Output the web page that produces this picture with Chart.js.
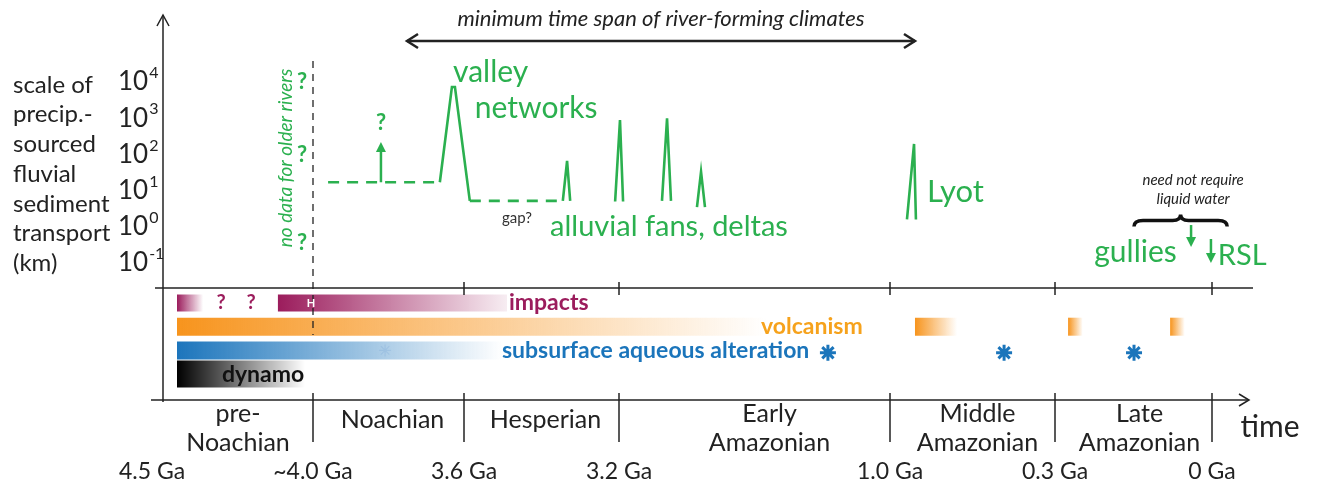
<!DOCTYPE html>
<html lang="en">
<head>
<meta charset="UTF-8">
<title>Mars river-forming climates through time</title>
<script src="https://cdn.jsdelivr.net/npm/chart.js"></script>
<style>
  body { margin: 0; background: #fff; }
</style>
</head>
<body>
<canvas id="chart" width="1320" height="486"></canvas>
<script>
// ---- data ----
// time axis: era boundaries (Ga) and labels
const eraBoundsGa = [4.5, 4.0, 3.6, 3.2, 1.0, 0.3, 0];
const eraBoundLabels = ['4.5 Ga', '~4.0 Ga', '3.6 Ga', '3.2 Ga', '1.0 Ga', '0.3 Ga', '0 Ga'];
const eraNames = [['pre-', 'Noachian'], ['Noachian'], ['Hesperian'], ['Early', 'Amazonian'], ['Middle', 'Amazonian'], ['Late', 'Amazonian']];
const decadeExps = [4, 3, 2, 1, 0, -1];
const yTitleLines = ['scale of', 'precip.-', 'sourced', 'fluvial', 'sediment', 'transport', '(km)'];

// scale of precipitation-sourced fluvial sediment transport, [Ga, km]
const noachianBase = [[3.96, 17], [3.664, 17]];
const valleyNetworks = [[3.664, 17], [3.632, 7300], [3.624, 7300], [3.585, 5.2]];
const hesperianBase = [[3.585, 5.2], [3.345, 5.2]];
const fansDeltas = [[3.345, 5.2], [3.334, 66], [3.326, 5.2], null,
  [3.21, 5], [3.192, 890], [3.167, 5], null,
  [2.851, 5.2], [2.81, 1000], [2.778, 5.2], null,
  [2.567, 3.5], [2.534, 33], [2.502, 3.5]];
const lyot = [[0.928, 1.6], [0.898, 195], [0.89, 1.6]];

// other processes, [start Ga, end Ga]
const impactSpans = [[4.5, 4.404], [4.129, 3.489]];
const volcanismSpans = [[4.5, 2.0], [0.894, 0.716], [0.275, 0.247], [0.08, 0.052]];
const alterationSpans = [[4.5, 3.5]];
const dynamoSpans = [[4.5, 4.03]];
const alterationStars = [1.504, 0.516, 0.149];

// ---- layout helpers ----
const GREEN = '#2bb04f';
const FONT = 'Lato, "Open Sans", sans-serif';
// schematic (non linear) spacing of the era boundaries along the axis
const eraAxisPos = [0, 1.36, 2.87, 4.42, 7.13, 8.78, 10.35];
// small horizontal nudges (px) of the era names from the era mid points
const eraNameShift = [-7, 4, 4, 15, 5, 6];

function pos(ga) {
  const n = eraBoundsGa.length;
  for (let i = 0; i < n - 1; i++) {
    const a = eraBoundsGa[i], b = eraBoundsGa[i + 1];
    if (ga >= b || i === n - 2) {
      return eraAxisPos[i] + (a - ga) / (a - b) * (eraAxisPos[i + 1] - eraAxisPos[i]);
    }
  }
}

function pts(list) {
  let lastX = 0;
  return list.map(p => {
    if (!p) return { x: lastX, y: null };
    lastX = pos(p[0]);
    return { x: lastX, y: p[1] };
  });
}

function fade(chart, span, rgb, endAlpha) {
  if (!chart.chartArea) return 'rgb(' + rgb + ')';
  const sx = chart.scales.x;
  const g = chart.ctx.createLinearGradient(sx.getPixelForValue(pos(span[0])), 0, sx.getPixelForValue(pos(span[1])), 0);
  g.addColorStop(0, 'rgba(' + rgb + ',1)');
  g.addColorStop(1, 'rgba(' + rgb + ',' + endAlpha + ')');
  return g;
}

function spanSets(spans, row, rgb, width, endAlpha) {
  return spans.map(s => ({
    yAxisID: 'y2',
    data: [{ x: pos(s[0]), y: row }, { x: pos(s[1]), y: row }],
    borderWidth: width,
    borderCapStyle: 'butt',
    pointRadius: 0,
    borderColor: ctx => fade(ctx.chart, s, rgb, endAlpha)
  }));
}

const lineBase = { yAxisID: 'y', borderColor: GREEN, borderWidth: 2.6, pointRadius: 0, tension: 0 };

function line(c, x0, y0, x1, y1) {
  c.beginPath(); c.moveTo(x0, y0); c.lineTo(x1, y1); c.stroke();
}
function chevron(c, x, y, dir, w, l) {
  c.beginPath();
  if (dir === 'up') { c.moveTo(x - w, y + l); c.lineTo(x, y); c.lineTo(x + w, y + l); }
  if (dir === 'right') { c.moveTo(x - l, y - w); c.lineTo(x, y); c.lineTo(x - l, y + w); }
  if (dir === 'left') { c.moveTo(x + l, y - w); c.lineTo(x, y); c.lineTo(x + l, y + w); }
  c.stroke();
}
function txt(c, s, x, y, font, color, align) {
  c.font = font; c.fillStyle = color; c.textAlign = align || 'left'; c.textBaseline = 'middle';
  c.fillText(s, x, y);
}
function greenArrow(c, x, y0, y1) {
  const d = Math.sign(y1 - y0);
  c.strokeStyle = GREEN; c.fillStyle = GREEN; c.lineWidth = 2.5;
  line(c, x, y0, x, y1 - d * 8);
  c.beginPath(); c.moveTo(x - 5, y1 - d * 10); c.lineTo(x + 5, y1 - d * 10); c.lineTo(x, y1); c.closePath(); c.fill();
}

// axes, arrows and annotation text
const decor = {
  id: 'decor',
  afterDatasetsDraw(chart) {
    const c = chart.ctx, a = chart.chartArea;
    const sx = chart.scales.x, sy = chart.scales.y, s2 = chart.scales.y2;
    const px = ga => sx.getPixelForValue(pos(ga));
    const py = v => sy.getPixelForValue(v);
    const ry = r => s2.getPixelForValue(r);
    c.save();
    c.strokeStyle = '#222'; c.lineWidth = 1.5; c.lineCap = 'butt';

    // y axis with arrow
    line(c, a.left, a.bottom + 2, a.left, a.top);
    chevron(c, a.left, a.top, 'up', 6, 11);
    // upper baseline with era ticks
    const yb = sy.bottom;
    line(c, a.left - 8, yb, a.right, yb);
    for (let i = 2; i < eraBoundsGa.length; i++) line(c, px(eraBoundsGa[i]), yb - 6, px(eraBoundsGa[i]), yb + 7);
    // time axis
    line(c, a.left - 12, a.bottom, a.right - 4, a.bottom);
    chevron(c, a.right - 4, a.bottom, 'right', 6, 10);
    for (let i = 1; i < eraBoundsGa.length; i++) line(c, px(eraBoundsGa[i]), a.bottom - 7, px(eraBoundsGa[i]), a.bottom + 42);

    // dashed "no data" line at ~4.0 Ga
    c.setLineDash([7, 6]); c.lineWidth = 1.3;
    line(c, px(4.0), a.top + 46, px(4.0), ry(1.35));
    c.setLineDash([]);

    // minimum time span arrow
    c.lineWidth = 2.5;
    const ay = a.top + 26, ax0 = px(3.751), ax1 = px(0.894);
    line(c, ax0, ay, ax1, ay);
    chevron(c, ax0, ay, 'left', 7, 11);
    chevron(c, ax1, ay, 'right', 7, 11);
    txt(c, 'minimum time span of river-forming climates', (ax0 + ax1) / 2, a.top + 4, 'italic 22px ' + FONT, '#222', 'center');

    // y tick labels 10^n
    decadeExps.forEach(e => {
      const y = py(Math.pow(10, e));
      c.font = '26px ' + FONT;
      const w = c.measureText('10').width;
      txt(c, '10', 118, y, '26px ' + FONT, '#222');
      txt(c, String(e), 119 + w, y - 9, '16px ' + FONT, '#222');
    });
    // y title
    yTitleLines.forEach((s, i) => txt(c, s, 13, 85 + i * 29.7, '24px ' + FONT, '#222'));

    // green annotations
    const gx = px(4.04);
    [1e4, 96, 0.355].forEach(v => txt(c, '?', gx, py(v), 'bold 22px ' + FONT, GREEN, 'center'));
    c.save();
    c.translate(px(4.099), py(80)); c.rotate(-Math.PI / 2);
    txt(c, 'no data for older rivers', 0, 0, 'italic 19px ' + FONT, GREEN, 'center');
    c.restore();
    greenArrow(c, px(3.82), py(17), py(220));
    txt(c, '?', px(3.82), py(740), 'bold 22px ' + FONT, GREEN, 'center');

    txt(c, 'valley', px(3.629), py(19000), '30px ' + FONT, GREEN);
    txt(c, 'networks', px(3.572), py(1900), '30px ' + FONT, GREEN);
    txt(c, 'gap?', px(3.502), py(1.75), '15px ' + FONT, '#333');
    txt(c, 'alluvial fans, deltas', px(3.378), py(0.99), '29px ' + FONT, GREEN);
    txt(c, 'Lyot', px(0.843), py(9.1), '31px ' + FONT, GREEN);
    txt(c, 'gullies', px(0.225), py(0.2), '30px ' + FONT, GREEN);
    txt(c, 'RSL', px(-0.011), py(0.156), '29px ' + FONT, GREEN);
    txt(c, 'need not require', px(0.036), py(19.6), 'italic 15px ' + FONT, '#222', 'center');
    txt(c, 'liquid water', px(0.036), py(5.86), 'italic 15px ' + FONT, '#222', 'center');

    // brace over gullies / RSL
    const bx0 = px(0.149), bx1 = px(-0.029), bm = (bx0 + bx1) / 2, by = py(1.5);
    c.strokeStyle = '#111'; c.lineWidth = 3.5;
    c.beginPath();
    c.moveTo(bx0, by + 6);
    c.quadraticCurveTo(bx0, by, bx0 + 9, by);
    c.lineTo(bm - 8, by);
    c.quadraticCurveTo(bm, by, bm, by - 6);
    c.quadraticCurveTo(bm, by, bm + 8, by);
    c.lineTo(bx1 - 9, by);
    c.quadraticCurveTo(bx1, by, bx1, by + 6);
    c.stroke();
    greenArrow(c, px(0.04), py(1.12), py(0.277));
    greenArrow(c, px(0.002), py(0.46), py(0.1));

    // lower panel labels
    const MAG = '#9b1c5c';
    txt(c, '?', px(4.338), ry(0), 'bold 20px ' + FONT, MAG, 'center');
    txt(c, '?', px(4.228), ry(0), 'bold 20px ' + FONT, MAG, 'center');
    txt(c, 'H', px(4.007), ry(0), 'bold 11px ' + FONT, '#fff', 'center');
    txt(c, 'impacts', px(3.484), ry(0), 'bold 23px ' + FONT, MAG);
    txt(c, 'volcanism', px(2.047), ry(1), 'bold 23px ' + FONT, '#f6a21c');
    txt(c, 'subsurface aqueous alteration', px(3.502), ry(2), 'bold 23px ' + FONT, '#1b75bb');
    txt(c, 'dynamo', px(4.335), ry(3), 'bold 23px ' + FONT, '#111');

    // era names and boundary ages
    for (let i = 0; i < eraNames.length; i++) {
      const cx = (px(eraBoundsGa[i]) + px(eraBoundsGa[i + 1])) / 2 + eraNameShift[i];
      const ls = eraNames[i];
      if (ls.length === 1) txt(c, ls[0], cx, a.bottom + 20, '25px ' + FONT, '#222', 'center');
      else ls.forEach((s, j) => txt(c, s, cx, a.bottom + 14 + j * 29, '25px ' + FONT, '#222', 'center'));
    }
    eraBoundLabels.forEach((s, i) => {
      const x = px(eraBoundsGa[i]) - (i === 0 ? 25 : 0);
      txt(c, s, x, a.bottom + 72, '23px ' + FONT, '#222', 'center');
    });
    txt(c, 'time', a.right + 17, a.bottom + 27, '30px ' + FONT, '#222', 'center');
    c.restore();
  }
};

const datasets = [
  { ...lineBase, data: pts(noachianBase), borderDash: [11, 8] },
  { ...lineBase, data: pts(valleyNetworks) },
  { ...lineBase, data: pts(hesperianBase), borderDash: [11, 8] },
  { ...lineBase, data: pts(fansDeltas), spanGaps: false },
  { ...lineBase, data: pts(lyot) },
  ...spanSets(impactSpans.slice(0, 1), 0, '155,28,92', 17, 0),
  ...spanSets(impactSpans.slice(1), 0, '155,28,92', 17, 0.08),
  ...spanSets(volcanismSpans, 1, '247,148,29', 18, 0),
  ...spanSets(alterationSpans, 2, '28,117,188', 18, 0),
  ...spanSets(dynamoSpans, 3, '0,0,0', 27, 0),
  {
    yAxisID: 'y2', showLine: false, pointStyle: 'star', pointRadius: 8, borderWidth: 3,
    borderColor: '#1b75bb', data: alterationStars.map(g => ({ x: pos(g), y: 2.1 }))
  },
  {
    yAxisID: 'y2', showLine: false, pointStyle: 'star', pointRadius: 6, borderWidth: 1.2,
    borderColor: '#e8eef8', data: [{ x: pos(3.809), y: 2 }]
  }
];

new Chart(document.getElementById('chart'), {
  type: 'line',
  data: { datasets },
  options: {
    responsive: false,
    animation: false,
    devicePixelRatio: 1,
    layout: { padding: { left: 0, right: 67, top: 15, bottom: 86 } },
    plugins: { legend: { display: false }, tooltip: { enabled: false } },
    events: [],
    scales: {
      x: { type: 'linear', min: -0.14, max: 10.76, display: false },
      // the lower process panel is declared first so it stacks below the log panel
      y2: {
        type: 'linear', position: 'left', stack: 'main', stackWeight: 112, reverse: true,
        min: -0.633, max: 4.093,
        ticks: { display: false }, grid: { display: false }, border: { display: false },
        afterFit: s => { s.width = 163; }
      },
      y: {
        type: 'logarithmic', position: 'left', stack: 'main', stackWeight: 273,
        min: Math.pow(10, -1.69), max: Math.pow(10, 5.851),
        ticks: { display: false }, grid: { display: false }, border: { display: false },
        afterFit: s => { s.width = 163; }
      }
    }
  },
  plugins: [decor]
});
</script>
</body>
</html>
